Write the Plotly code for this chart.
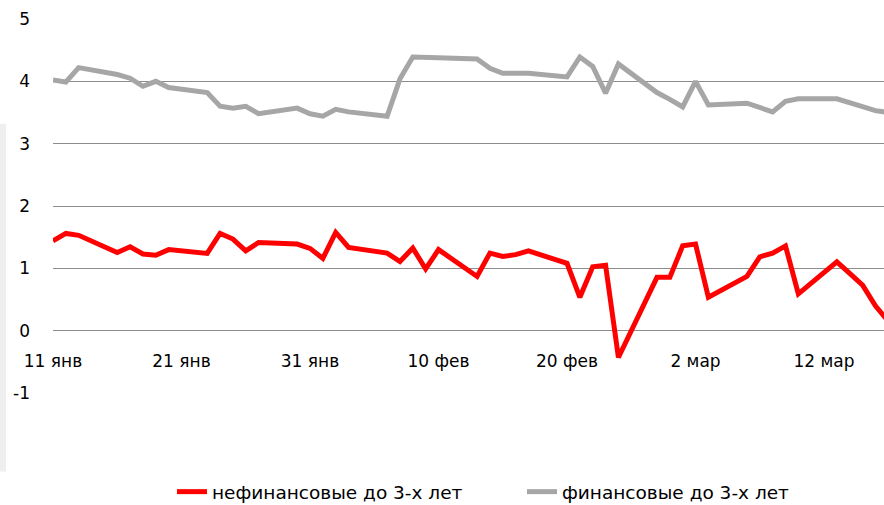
import plotly.graph_objects as go

dates = [
    "2017-01-11", "2017-01-12", "2017-01-13", "2017-01-16", "2017-01-17", "2017-01-18",
    "2017-01-19", "2017-01-20", "2017-01-23", "2017-01-24", "2017-01-25", "2017-01-26",
    "2017-01-27", "2017-01-30", "2017-01-31", "2017-02-01", "2017-02-02", "2017-02-03",
    "2017-02-06", "2017-02-07", "2017-02-08", "2017-02-09", "2017-02-10", "2017-02-13",
    "2017-02-14", "2017-02-15", "2017-02-16", "2017-02-17", "2017-02-20", "2017-02-21",
    "2017-02-22", "2017-02-23", "2017-02-24", "2017-02-27", "2017-02-28", "2017-03-01",
    "2017-03-02", "2017-03-03", "2017-03-06", "2017-03-07", "2017-03-08", "2017-03-09",
    "2017-03-10", "2017-03-13", "2017-03-14", "2017-03-15", "2017-03-16", "2017-03-17",
]

nonfin_3y = [
    1.44, 1.56, 1.53, 1.255, 1.345, 1.23,
    1.21, 1.30, 1.24, 1.56, 1.47, 1.28,
    1.415, 1.39, 1.32, 1.16, 1.575, 1.335,
    1.245, 1.11, 1.325, 0.99, 1.30, 0.87,
    1.245, 1.19, 1.22, 1.28, 1.08, 0.535,
    1.025, 1.05, -0.43, 0.855, 0.855, 1.36,
    1.39, 0.535, 0.87, 1.185, 1.245, 1.36,
    0.59, 1.105, 0.92, 0.73, 0.40, 0.15,
]

fin_3y = [
    4.02, 3.99, 4.22, 4.11, 4.05, 3.92,
    4.00, 3.90, 3.82, 3.60, 3.57, 3.60,
    3.48, 3.57, 3.48, 3.44, 3.55, 3.51,
    3.44, 4.04, 4.39, 4.39, 4.38, 4.36,
    4.21, 4.13, 4.13, 4.13, 4.07, 4.39,
    4.24, 3.81, 4.28, 3.82, 3.71, 3.59,
    4.00, 3.62, 3.65, 3.57, 3.51, 3.68,
    3.72, 3.72, 3.66, 3.59, 3.53, 3.50,
]

tick_dates = ["2017-01-11", "2017-01-21", "2017-01-31", "2017-02-10",
              "2017-02-20", "2017-03-02", "2017-03-12"]
tick_labels = ["11 янв", "21 янв", "31 янв", "10 фев", "20 фев", "2 мар", "12 мар"]

y_ticks = [-1, 0, 1, 2, 3, 4, 5]
y_labels = ["-1", "0", "1", "2", "3", "4", "5"]

series_names = ["нефинансовые до 3-х лет", "финансовые до 3-х лет"]

fig = go.Figure()
fig.add_trace(go.Scatter(x=dates, y=nonfin_3y, mode="lines", name=series_names[0],
                         line=dict(color="#ff0000", width=5)))
fig.add_trace(go.Scatter(x=dates, y=fin_3y, mode="lines", name=series_names[1],
                         line=dict(color="#a6a6a6", width=5)))

tick_font = dict(family="DejaVu Sans, Open Sans, sans-serif", size=17, color="#000000")

fig.update_layout(
    width=884, height=505,
    margin=dict(l=53, r=0, t=19, b=112, autoexpand=False),
    paper_bgcolor="white", plot_bgcolor="white",
    showlegend=True,
    legend=dict(orientation="h", x=0.1432, xanchor="left", y=-0.265, yanchor="middle",
                font=dict(family="DejaVu Sans, Open Sans, sans-serif",
                          size=18.5, color="#000000"),
                itemwidth=30, entrywidth=305, entrywidthmode="pixels",
                bgcolor="rgba(0,0,0,0)"),
    xaxis=dict(type="date", range=["2017-01-11 00:00", "2017-03-16 16:00"],
               tickvals=tick_dates, ticktext=tick_labels,
               showgrid=False, showline=False, zeroline=False,
               anchor="free", position=1/6, automargin=False,
               ticks="outside", ticklen=15, tickcolor="rgba(0,0,0,0)",
               tickfont=tick_font),
    yaxis=dict(range=[-1, 5], tickvals=y_ticks, ticktext=y_labels,
               showgrid=True, gridcolor="#8c8c8c", gridwidth=1.3,
               zeroline=True, zerolinecolor="#8c8c8c", zerolinewidth=1.3,
               showline=False, ticks="", ticklabelstandoff=22, automargin=False,
               tickfont=tick_font),
    shapes=[dict(type="rect", xref="paper", yref="paper",
                 x0=-53/831, x1=-47/831, y0=-0.21, y1=0.72,
                 fillcolor="#efefef", line=dict(width=0), layer="below")],
)

fig.write_html("out.html", config={"displayModeBar": False},
               post_script="document.body.style.margin='0';")
